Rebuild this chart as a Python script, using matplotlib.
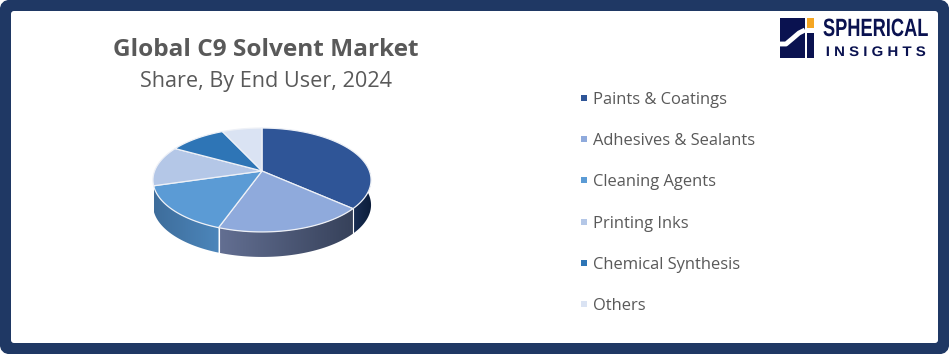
#!/usr/bin/env python3
"""Global C9 Solvent Market - perspective 3D pie, drawn by hand on one pixel-sized axes"""

import numpy as np
import matplotlib
matplotlib.use('Agg')
import matplotlib.pyplot as plt
from matplotlib.colors import LinearSegmentedColormap
from matplotlib.patches import FancyBboxPatch, Polygon, Rectangle
from matplotlib.patheffects import AbstractPathEffect
from matplotlib.transforms import Affine2D

# data
categories = ['Paints & Coatings', 'Adhesives & Sealants', 'Cleaning Agents',
              'Printing Inks', 'Chemical Synthesis', 'Others']
shares = [36.5, 19, 15, 12.5, 10, 7]
top_colors = ['#2F5597', '#8FAADC', '#5B9BD5', '#B4C7E7', '#2E75B6', '#DAE3F3']
# side colour at left and right end of each slice
side_left = ['#1a2f55', '#636f92', '#4c86bb', '#7f8ca3', '#20527f', '#9a9fab']
side_right = ['#0b1c39', '#36415a', '#3e6d9b', '#5f6a7d', '#173b5c', '#73777f']

W, H = 949, 354
GREY = '#595959'
NAVY = '#1F3864'
LOGO = '#0A1250'

# pie projection in pixels
APEX_X, APEX_Y = 262, 171
A, B, K = 50.4, 107.4, 0.173
DEPTH = 25


class ScaleX(AbstractPathEffect):
    """squeeze or stretch a text sideways about a pixel column"""

    def __init__(self, x0, sx):
        super().__init__()
        self.x0, self.sx = x0, sx

    def draw_path(self, renderer, gc, tpath, affine, rgbFace=None):
        squeeze = Affine2D().translate(-self.x0, 0).scale(self.sx, 1).translate(self.x0, 0)
        renderer.draw_path(gc, tpath, affine + squeeze, rgbFace)


def project(angle):
    """angle in degrees clockwise from the top of the pie -> rim pixel"""
    t = np.radians(angle)
    u, v = np.sin(t), np.cos(t)
    return APEX_X + B * u / (1 + K * v), APEX_Y - A * v / (1 + K * v)


plt.rcParams['font.family'] = ['Open Sans', 'DejaVu Sans']
fig = plt.figure(figsize=(W / 100, H / 100), dpi=100, facecolor='white')
ax = fig.add_axes([0, 0, 1, 1])
ax.set_xlim(0, W)
ax.set_ylim(H, 0)
ax.axis('off')

# frame
ax.add_patch(FancyBboxPatch((4, 4), W - 8, H - 8, boxstyle='round,pad=0,rounding_size=6',
                            mutation_aspect=1, fc=NAVY, ec=NAVY, lw=6))
ax.add_patch(FancyBboxPatch((11, 11), 927, 332, boxstyle='round,pad=0,rounding_size=3',
                            fc='white', ec='none'))

# titles
ax.text(266, 50, 'Global C9 Solvent Market', fontsize=17.6, fontweight='bold',
        color=GREY, ha='center', va='center')
ax.text(266, 82, 'Share, By End User, 2024', fontsize=15.6, color=GREY,
        ha='center', va='center')

edges = np.concatenate([[0], np.cumsum(shares)]) * 360.0 / sum(shares)

# side wall, front part only (left end stops where the wall runs out of sight)
FRONT_START, FRONT_END = 80, 253
for i in range(len(shares)):
    a0 = max(edges[i], FRONT_START)
    a1 = min(edges[i + 1], FRONT_END)
    if a1 <= a0:
        continue
    ang = np.linspace(a0, a1, 80)
    xs, ys = project(ang)
    pts = np.column_stack([np.r_[xs, xs[::-1]], np.r_[ys, ys[::-1] + DEPTH]])
    poly = Polygon(pts, closed=True, fc='none', ec='none')
    ax.add_patch(poly)
    x0, x1 = pts[:, 0].min(), pts[:, 0].max()
    cmap = LinearSegmentedColormap.from_list('side', [side_right[i], side_left[i]]
                                             if i > 1 else [side_left[i], side_right[i]])
    im = ax.imshow(np.linspace(0, 1, 128).reshape(1, -1), cmap=cmap, aspect='auto',
                   extent=(x0, x1, pts[:, 1].max(), pts[:, 1].min()), zorder=2)
    im.set_clip_path(poly)
    if a0 == edges[i] and a0 > FRONT_START:
        ax.plot([xs[0], xs[0]], [ys[0], ys[0] + DEPTH], color='white', lw=0.8, zorder=3)
ax.set_xlim(0, W)
ax.set_ylim(H, 0)

# top face
for i in range(len(shares)):
    ang = np.linspace(edges[i], edges[i + 1], 120)
    xs, ys = project(ang)
    pts = np.column_stack([np.r_[APEX_X, xs], np.r_[APEX_Y, ys]])
    ax.add_patch(Polygon(pts, closed=True, fc=top_colors[i], ec='#eef1f7', lw=0.9, zorder=4))

# legend
for i, name in enumerate(categories):
    y = 100 + i * 41.2
    ax.add_patch(Rectangle((581, y - 5), 6, 6, fc=top_colors[i], ec='none'))
    ax.text(593, y, name, fontsize=11.9, color=GREY, ha='left', va='center')

# logo
ax.add_patch(Rectangle((780, 18), 25, 40, fc=LOGO, ec='none'))
ax.add_patch(Rectangle((807, 18), 7, 10, fc='#F5A623', ec='none'))
ax.add_patch(Rectangle((807, 33), 7, 25, fc=LOGO, ec='none'))
ax.plot([780, 786, 792, 799, 805], [44, 44, 39, 33, 30], color='white', lw=3.5,
        solid_capstyle='butt')
ax.text(875.5, 29, 'SPHERICAL', fontsize=18, fontweight='bold', color=LOGO, ha='center',
        va='center', family=['Liberation Sans', 'DejaVu Sans'],
        path_effects=[ScaleX(875.5, 0.73)])
ax.text(875.5, 52, 'I N S I G H T S', fontsize=10, fontweight='bold', color=LOGO, ha='center',
        va='center', family=['Liberation Sans', 'DejaVu Sans'],
        path_effects=[ScaleX(875.5, 1.08)])

fig.savefig('out.png', dpi=100, facecolor='white')
